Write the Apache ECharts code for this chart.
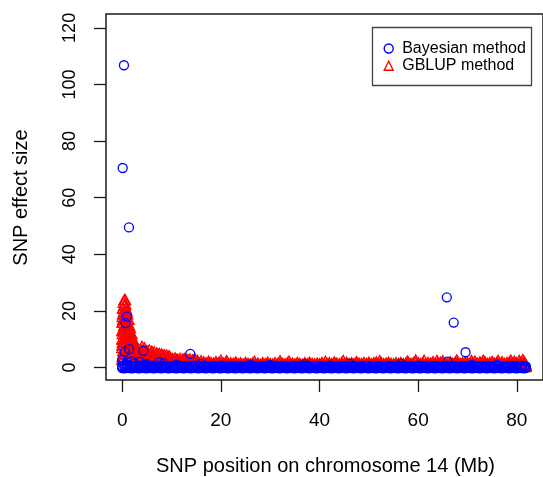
<!DOCTYPE html>
<html>
<head>
<meta charset="utf-8">
<script src="https://cdn.jsdelivr.net/npm/echarts@6/dist/echarts.min.js"></script>
<style>
html,body{margin:0;padding:0;background:#fff;}
#chart{width:543px;height:477px;}
</style>
</head>
<body>
<div id="chart"></div>
<script>
// ---- data ----
var seriesNames = ['Bayesian method', 'GBLUP method'];
var xTicks = [0, 20, 40, 60, 80];
var yTicks = [0, 20, 40, 60, 80, 100, 120];
var xTitle = 'SNP position on chromosome 14 (Mb)';
var yTitle = 'SNP effect size';

// GBLUP method, large effects near the start: [position Mb, effect]
var gblupCluster = [
  [0.0,10],[0.1,12],[0.2,17],[0.3,23],[0.4,20],[0.5,22],[0.6,15],[0.7,19],[0.8,13],[0.9,11],
  [1.0,16],[1.1,9],[1.2,14],[1.3,10],[1.4,12],[1.5,8],[1.6,11],[1.7,7],[1.8,9],[2.0,8],
  [2.2,6],[2.4,7],[2.6,5],[2.8,6],[3.3,5.5],[3.6,4],[4.3,5],[4.7,4],
  [0.3,14],[0.6,18],[0.9,20],[0.15,19],[0.05,16],[1.3,17],[0.7,9],[1.9,12],
  [0.55,12],[0.95,13.5],[0.05,8],[1.75,10],[2.15,9],[2.45,8.5],[0.15,21],[0.45,24],[0.62,22.5]
];
// GBLUP method, columns of effects at one position: [position Mb, effect, effect, ...]
var gblupColumns = [
  [0.0,13,7,3],[0.1,18,9,4],[0.2,21,13,6],[0.3,16,10,5],[0.4,22,15,8],[0.5,19,12,6],
  [0.6,24,17,9],[0.7,21,14,7],[0.8,18,12,6],[0.9,16,10,5],[1.0,19,13,7],[1.1,15,10,5],
  [1.2,17,11,6],[1.3,13,9,4],[1.4,15,10,5],[1.5,12,8,4],[1.6,14,9,5],[1.7,11,7,3],
  [1.8,12,8,4],[1.9,10,7,3],[2.0,10,7,4],[2.2,9,6,3],[2.4,9,6,3],[2.6,8,5,2.5],[2.8,8,5.5,3],
  [3.0,5.5,4,2.5,1],[3.25,6,4.5,3,1.5],[3.5,5,3.5,2,0.8],[3.75,6.5,4.8,3,1.2],[4.0,7.5,5,3.2,1.5],
  [4.25,6,4.2,2.6,1],[4.5,7,5,3,1.3],[4.75,5.5,4,2.5,1],[5.0,6,4.4,2.8,1.2],[5.25,5.2,3.8,2.3,0.9],
  [5.5,6.2,4.5,2.8,1.2],[5.75,5,3.6,2.2,0.8],[6.0,5.8,4.2,2.6,1.1],[6.25,4.8,3.4,2,0.8],
  [6.5,5.5,4,2.5,1],[6.75,4.6,3.3,2,0.7],[7.0,5.2,3.8,2.4,1],[7.25,4.5,3.2,1.9,0.8],
  [7.5,5,3.6,2.2,1],[7.75,4.3,3,1.8,0.7],[8.0,4.8,3.4,2.1,0.9],[8.25,4.1,2.9,1.7,0.7],
  [8.5,4.6,3.3,2,0.9],[8.75,4,2.8,1.6,0.6],[9.0,4.4,3.1,1.9,0.8],[9.25,3.8,2.7,1.6,0.6],
  [9.5,4.2,3,1.8,0.8],[9.75,3.6,2.5,1.5,0.6],
  [10.25,3.2,2.2,1.2],[10.75,3.4,2.3,1.2],[11.25,3.0,2.1,1.1],[11.75,3.2,2.2,1.0],
  [12.25,2.9,1.9,1.0],[12.75,3.3,2.2,1.1],[13.25,2.8,1.8,0.9],[13.75,3.1,2.0,1.0],
  [14.25,2.7,1.8,0.9],[14.75,3.0,1.9,1.0],[15.25,2.5,1.6,0.8]
];
// GBLUP method, the band: [position Mb, highest, middle, lowest effect at that position]
var gblupBand = [
  [10,2.6,1.8,0.6],[10.5,2.2,1.4,0.3],[11,2.8,1.9,0.5],[11.5,2.0,1.2,0.4],[12,2.4,1.6,0.2],
  [12.5,3.0,2.0,0.6],[13,2.1,1.3,0.3],[13.5,2.5,1.6,0.5],[14,1.9,1.1,0.2],[14.5,2.7,1.8,0.4],
  [15,2.2,1.4,0.6],[15.5,1.8,1.1,0.3],[16,2.4,1.5,0.5],[16.5,2.0,1.3,0.2],[17,1.7,1.0,0.4],
  [17.5,2.3,1.5,0.6],[18,1.8,1.1,0.3],[18.5,1.6,0.9,0.5],[19,2.1,1.3,0.2],[19.5,1.7,1.0,0.4],
  [20,2.6,1.6,0.6],[20.5,1.6,0.9,0.3],[21,1.9,1.2,0.5],[21.5,1.4,0.8,0.2],[22,1.7,1.0,0.4],
  [22.5,1.5,0.9,0.6],[23,2.0,1.2,0.3],[23.5,1.4,0.8,0.5],[24,1.7,1.0,0.2],[24.5,1.3,0.8,0.4],
  [25,1.8,1.1,0.6],[25.5,1.5,0.9,0.3],[26,1.3,0.8,0.5],[26.5,1.7,1.0,0.2],[27,1.4,0.8,0.4],
  [27.5,1.6,1.0,0.6],[28,1.2,0.7,0.3],[28.5,1.7,1.0,0.5],[29,1.4,0.8,0.2],[29.5,1.9,1.2,0.4],
  [30,1.5,0.9,0.6],[30.5,1.3,0.8,0.3],[31,1.7,1.0,0.5],[31.5,1.4,0.8,0.2],[32,2.4,1.5,0.4],
  [32.5,1.5,0.9,0.6],[33,1.3,0.8,0.3],[33.5,1.7,1.0,0.5],[34,1.4,0.8,0.2],[34.5,1.6,1.0,0.4],
  [35,1.3,0.8,0.6],[35.5,1.8,1.1,0.3],[36,1.5,0.9,0.5],[36.5,1.2,0.7,0.2],[37,1.7,1.0,0.4],
  [37.5,1.4,0.8,0.6],[38,1.9,1.2,0.3],[38.5,1.5,0.9,0.5],[39,1.3,0.8,0.2],[39.5,1.6,1.0,0.4],
  [40,1.4,0.8,0.6],[40.5,1.8,1.1,0.3],[41,1.3,0.8,0.5],[41.5,1.5,0.9,0.2],[42,1.7,1.0,0.4],
  [42.5,1.4,0.8,0.6],[43,2.0,1.2,0.3],[43.5,1.6,1.0,0.5],[44,1.3,0.8,0.2],[44.5,1.7,1.0,0.4],
  [45,1.5,0.9,0.6],[45.5,1.9,1.2,0.3],[46,1.4,0.8,0.5],[46.5,1.7,1.0,0.2],[47,1.5,0.9,0.4],
  [47.5,2.1,1.3,0.6],[48,1.6,1.0,0.3],[48.5,1.4,0.8,0.5],[49,1.8,1.1,0.2],[49.5,1.5,0.9,0.4],
  [50,1.9,1.2,0.6],[50.5,1.4,0.8,0.3],[51,1.7,1.0,0.5],[51.5,2.0,1.2,0.2],[52,1.5,0.9,0.4],
  [52.5,1.8,1.1,0.6],[53,1.4,0.8,0.3],[53.5,1.6,1.0,0.5],[54,1.9,1.2,0.2],[54.5,1.5,0.9,0.4],
  [55,1.3,0.8,0.6],[55.5,1.7,1.0,0.3],[56,1.5,0.9,0.5],[56.5,1.8,1.1,0.2],[57,1.4,0.8,0.4],
  [57.5,1.6,1.0,0.6],[58,1.9,1.2,0.3],[58.5,1.5,0.9,0.5],[59,1.7,1.0,0.2],[59.5,2.7,1.7,0.4],
  [60,1.8,1.1,0.6],[60.5,1.5,0.9,0.3],[61,1.7,1.0,0.5],[61.5,1.4,0.8,0.2],[62,1.8,1.1,0.4],
  [62.5,1.6,1.0,0.6],[63,2.1,1.3,0.3],[63.5,1.5,0.9,0.5],[64,1.7,1.0,0.2],[64.5,1.9,1.2,0.4],
  [65,2.4,1.5,0.6],[65.5,1.7,1.0,0.3],[66,1.5,0.9,0.5],[66.5,2.0,1.2,0.2],[67,1.6,1.0,0.4],
  [67.5,1.8,1.1,0.6],[68,2.2,1.4,0.3],[68.5,1.5,0.9,0.5],[69,1.7,1.0,0.2],[69.5,2.0,1.2,0.4],
  [70,1.8,1.1,0.6],[70.5,1.5,0.9,0.3],[71,1.9,1.2,0.5],[71.5,2.3,1.4,0.2],[72,1.6,1.0,0.4],
  [72.5,2.0,1.2,0.6],[73,1.7,1.0,0.3],[73.5,2.1,1.3,0.5],[74,1.5,0.9,0.2],[74.5,1.8,1.1,0.4],
  [75,2.2,1.4,0.6],[75.5,1.6,1.0,0.3],[76,1.9,1.2,0.5],[76.5,1.7,1.0,0.2],[77,2.1,1.3,0.4],
  [77.5,1.5,0.9,0.6],[78,1.8,1.1,0.3],[78.5,2.0,1.2,0.5],[79,1.6,1.0,0.2],[79.5,2.3,1.4,0.4],
  [80,1.7,1.0,0.6],[80.5,2.5,1.5,0.3],[81,1.9,1.2,0.5],[81.5,2.1,1.3,0.2],[81.8,1.2,0.7,0.4]
];
// GBLUP method, a few taller marks along the band: [position Mb, effect]
var gblupPeaks = [
  [21.2,2.4],[26.8,2.2],[33.8,2.3],[41.2,2.2],[44.8,2.5],[52.2,2.4],[57.8,2.3],[61.2,2.6],
  [63.8,2.5],[67.8,2.7],[70.8,2.5],[73.2,2.6],[76.2,2.5],[78.8,2.6],[81.2,2.8]
];

// Bayesian method, isolated large effects: [position Mb, effect]
var bayesOutliers = [
  [0.36,106.8],[0.1,70.5],[1.37,49.5],[0.97,18],[0.7,15.7],[1.4,6.5],[0.5,5.6],[4.3,5.9],
  [0.0,2.7],[13.8,4.8],[65.8,24.8],[67.2,15.9],[69.6,5.4],[66.0,2.1]
];
// Bayesian method, the band: [position Mb, lowest, middle, highest effect at that position]
var bayesBand = [
  [0,-0.2,0.1,0.5],[0.5,-0.3,0.2,0.6],[1,-0.1,0.2,0.9],[1.5,-0.2,0.1,0.7],[2,-0.3,0.2,0.5],
  [2.5,-0.1,0.1,0.6],[3,-0.2,0.2,0.8],[3.5,-0.3,0.1,0.5],[4,-0.1,0.2,0.6],[4.5,-0.2,0.1,0.9],
  [5,-0.3,0.2,0.5],[5.5,-0.1,0.1,0.7],[6,-0.2,0.2,0.6],[6.5,-0.3,0.1,0.5],[7,-0.1,0.2,0.8],
  [7.5,-0.2,0.1,0.6],[8,-0.3,0.2,0.5],[8.5,-0.1,0.1,0.7],[9,-0.2,0.2,0.6],[9.5,-0.3,0.1,0.5],
  [10,-0.1,0.2,0.6],[10.5,-0.2,0.1,0.5],[11,-0.3,0.2,0.7],[11.5,-0.1,0.1,0.4],[12,-0.2,0.2,0.6],
  [12.5,-0.3,0.1,0.5],[13,-0.1,0.2,0.4],[13.5,-0.2,0.1,0.6],[14,-0.3,0.2,0.5],[14.5,-0.1,0.1,0.7],
  [15,-0.2,0.2,0.4],[15.5,-0.3,0.1,0.6],[16,-0.1,0.2,0.5],[16.5,-0.2,0.1,0.4],[17,-0.3,0.2,0.6],
  [17.5,-0.1,0.1,0.5],[18,-0.2,0.2,0.4],[18.5,-0.3,0.1,0.6],[19,-0.1,0.2,0.5],[19.5,-0.2,0.1,0.4],
  [20,-0.3,0.2,0.6],[20.5,-0.1,0.1,0.4],[21,-0.2,0.2,0.5],[21.5,-0.3,0.1,0.4],[22,-0.1,0.2,0.6],
  [22.5,-0.2,0.1,0.4],[23,-0.3,0.2,0.5],[23.5,-0.1,0.1,0.4],[24,-0.2,0.2,0.6],[24.5,-0.3,0.1,0.4],
  [25,-0.1,0.2,0.5],[25.5,-0.2,0.1,0.4],[26,-0.3,0.2,0.6],[26.5,-0.1,0.1,0.4],[27,-0.2,0.2,0.5],
  [27.5,-0.3,0.1,0.4],[28,-0.1,0.2,0.6],[28.5,-0.2,0.1,0.4],[29,-0.3,0.2,0.5],[29.5,-0.1,0.1,0.4],
  [30,-0.2,0.2,0.6],[30.5,-0.3,0.1,0.4],[31,-0.1,0.2,0.5],[31.5,-0.2,0.1,0.4],[32,-0.3,0.2,0.6],
  [32.5,-0.1,0.1,0.4],[33,-0.2,0.2,0.5],[33.5,-0.3,0.1,0.4],[34,-0.1,0.2,0.6],[34.5,-0.2,0.1,0.4],
  [35,-0.3,0.2,0.5],[35.5,-0.1,0.1,0.4],[36,-0.2,0.2,0.6],[36.5,-0.3,0.1,0.4],[37,-0.1,0.2,0.5],
  [37.5,-0.2,0.1,0.4],[38,-0.3,0.2,0.6],[38.5,-0.1,0.1,0.4],[39,-0.2,0.2,0.5],[39.5,-0.3,0.1,0.4],
  [40,-0.1,0.2,0.6],[40.5,-0.2,0.1,0.4],[41,-0.3,0.2,0.5],[41.5,-0.1,0.1,0.4],[42,-0.2,0.2,0.6],
  [42.5,-0.3,0.1,0.4],[43,-0.1,0.2,0.5],[43.5,-0.2,0.1,0.4],[44,-0.3,0.2,0.6],[44.5,-0.1,0.1,0.4],
  [45,-0.2,0.2,0.5],[45.5,-0.3,0.1,0.4],[46,-0.1,0.2,0.6],[46.5,-0.2,0.1,0.4],[47,-0.3,0.2,0.5],
  [47.5,-0.1,0.1,0.4],[48,-0.2,0.2,0.6],[48.5,-0.3,0.1,0.4],[49,-0.1,0.2,0.5],[49.5,-0.2,0.1,0.4],
  [50,-0.3,0.2,0.6],[50.5,-0.1,0.1,0.4],[51,-0.2,0.2,0.5],[51.5,-0.3,0.1,0.4],[52,-0.1,0.2,0.6],
  [52.5,-0.2,0.1,0.4],[53,-0.3,0.2,0.5],[53.5,-0.1,0.1,0.4],[54,-0.2,0.2,0.6],[54.5,-0.3,0.1,0.4],
  [55,-0.1,0.2,0.5],[55.5,-0.2,0.1,0.4],[56,-0.3,0.2,0.6],[56.5,-0.1,0.1,0.4],[57,-0.2,0.2,0.5],
  [57.5,-0.3,0.1,0.4],[58,-0.1,0.2,0.6],[58.5,-0.2,0.1,0.4],[59,-0.3,0.2,0.5],[59.5,-0.1,0.1,0.4],
  [60,-0.2,0.2,0.6],[60.5,-0.3,0.1,0.4],[61,-0.1,0.2,0.5],[61.5,-0.2,0.1,0.4],[62,-0.3,0.2,0.6],
  [62.5,-0.1,0.1,0.4],[63,-0.2,0.2,0.5],[63.5,-0.3,0.1,0.4],[64,-0.1,0.2,0.6],[64.5,-0.2,0.1,0.4],
  [65,-0.3,0.2,0.5],[65.5,-0.1,0.1,0.4],[66,-0.2,0.2,0.6],[66.5,-0.3,0.1,0.4],[67,-0.1,0.2,0.5],
  [67.5,-0.2,0.1,0.4],[68,-0.3,0.2,0.6],[68.5,-0.1,0.1,0.4],[69,-0.2,0.2,0.5],[69.5,-0.3,0.1,0.4],
  [70,-0.1,0.2,0.6],[70.5,-0.2,0.1,0.4],[71,-0.3,0.2,0.5],[71.5,-0.1,0.1,0.4],[72,-0.2,0.2,0.6],
  [72.5,-0.3,0.1,0.4],[73,-0.1,0.2,0.5],[73.5,-0.2,0.1,0.4],[74,-0.3,0.2,0.6],[74.5,-0.1,0.1,0.4],
  [75,-0.2,0.2,0.5],[75.5,-0.3,0.1,0.4],[76,-0.1,0.2,0.6],[76.5,-0.2,0.1,0.4],[77,-0.3,0.2,0.5],
  [77.5,-0.1,0.1,0.4],[78,-0.2,0.2,0.6],[78.5,-0.3,0.1,0.4],[79,-0.1,0.2,0.5],[79.5,-0.2,0.1,0.4],
  [80,-0.3,0.2,0.6],[80.5,-0.1,0.1,0.4],[81,-0.2,0.2,0.5],[81.5,-0.3,0.1,0.4],[81.8,-0.1,0.2,0.5]
];
// Bayesian method, small bumps above the band: [position Mb, effect]
var bayesBumps = [
  [0.2,1.5],[0.6,1],[1,2],[1.9,2.2],[2.5,1.5],[3.5,2],[5,1.2],[7.5,1.8],[8.5,1.5],[11,1],
  [16,1.3],[20,0.8],[26,1.1],[30,0.9],[37,1.2],[42,0.7],[46,1.4],[56.5,1.3],[60,0.8],[71,0.9],
  [76,1],[81,0.6]
];

// reshape column rows ([x, y1, y2, ...]) into [x, y] points
function expand(rows) {
  var out = [];
  rows.forEach(function (r) {
    for (var i = 1; i < r.length; i++) out.push([r[0], r[i]]);
  });
  return out;
}
var gblupData = gblupCluster.concat(expand(gblupColumns), expand(gblupBand), gblupPeaks);
var bayesData = expand(bayesBand).concat(bayesBumps, bayesOutliers);

var FONT = '"Liberation Sans", Arial, sans-serif';
var chart = echarts.init(document.getElementById('chart'), null, {renderer: 'canvas'});
chart.setOption({
  animation: false,
  backgroundColor: '#fff',
  grid: {
    left: 106, top: 14, width: 443.6, height: 366,
    show: true, borderColor: '#1a1a1a', borderWidth: 1.5, backgroundColor: 'transparent'
  },
  xAxis: {
    type: 'value', min: -3.28, max: 85.3,
    axisLine: {show: false, onZero: false},
    splitLine: {show: false},
    axisTick: {show: true, length: 12, inside: false, customValues: xTicks,
               lineStyle: {color: '#1a1a1a', width: 1.3}},
    axisLabel: {show: true, customValues: xTicks, margin: 31, color: '#000',
                fontSize: 19, fontFamily: FONT}
  },
  yAxis: {
    type: 'value', min: -4.4, max: 124.9,
    axisLine: {show: false, onZero: false},
    splitLine: {show: false},
    axisTick: {show: true, length: 12, inside: false, customValues: yTicks,
               lineStyle: {color: '#1a1a1a', width: 1.3}},
    axisLabel: {show: true, customValues: yTicks, margin: 27, rotate: 90, color: '#000',
                fontSize: 18, fontFamily: FONT}
  },
  legend: {
    orient: 'vertical',
    left: 383.5, top: 40.5,
    itemWidth: 9, itemHeight: 9, itemGap: 1.3,
    padding: 0,
    textStyle: {fontSize: 16, fontFamily: FONT, color: '#000', padding: [0, 0, 0, 4], lineHeight: 16},
    data: [
      {name: seriesNames[0], icon: 'circle',
       itemStyle: {color: 'rgba(0,0,0,0)', borderColor: '#0000FF', borderWidth: 1.4}},
      {name: seriesNames[1], icon: 'triangle',
       itemStyle: {color: 'rgba(0,0,0,0)', borderColor: '#FF0000', borderWidth: 1.4}}
    ]
  },
  graphic: [
    {type: 'rect', shape: {x: 372.5, y: 27.5, width: 159, height: 58},
     style: {fill: 'none', stroke: '#444', lineWidth: 1.3}, z: 10, silent: true},
    {type: 'text', x: 325.5, y: 466,
     style: {text: xTitle, fontSize: 20, fontFamily: FONT, fill: '#000',
             textAlign: 'center', textVerticalAlign: 'middle'}},
    {type: 'text', x: 21, y: 197.5, rotation: Math.PI / 2,
     style: {text: yTitle, fontSize: 20, fontFamily: FONT, fill: '#000',
             textAlign: 'center', textVerticalAlign: 'middle'}}
  ],
  series: [
    {
      name: seriesNames[1], type: 'scatter', data: gblupData,
      symbol: 'triangle', symbolSize: [11, 10],
      itemStyle: {color: 'rgba(0,0,0,0)', borderColor: '#FF0000', borderWidth: 1.3, opacity: 1},
      emphasis: {disabled: true}, silent: true, z: 2
    },
    {
      name: seriesNames[0], type: 'scatter', data: bayesData,
      symbol: 'circle', symbolSize: 9,
      itemStyle: {color: 'rgba(0,0,0,0)', borderColor: '#0000FF', borderWidth: 1.3, opacity: 1},
      emphasis: {disabled: true}, silent: true, z: 3
    }
  ]
});
</script>
</body>
</html>
